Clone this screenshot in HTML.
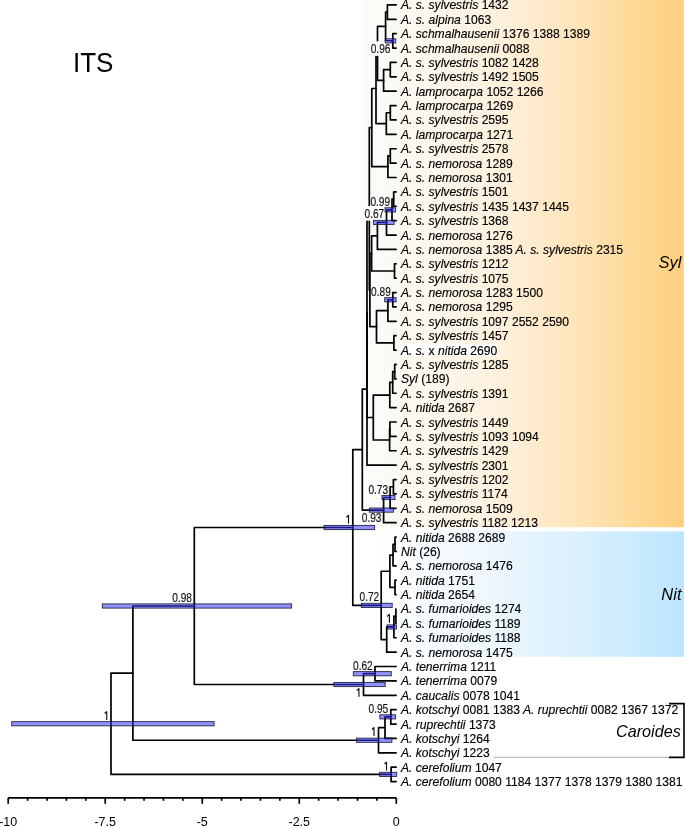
<!DOCTYPE html>
<html><head><meta charset="utf-8"><title>ITS tree</title>
<style>
html,body{margin:0;padding:0;background:#fff;}
body{width:685px;height:826px;overflow:hidden;}
svg{display:block;will-change:transform;font-family:"Liberation Sans",sans-serif;}
</style></head><body>
<svg width="685" height="826" viewBox="0 0 685 826">
<defs>
<linearGradient id="go" x1="0" y1="0" x2="1" y2="0">
<stop offset="0" stop-color="#fbfbfa"/>
<stop offset="0.08" stop-color="#fcfaf6"/>
<stop offset="0.4" stop-color="#fdf2e0"/>
<stop offset="0.565" stop-color="#feeaca"/>
<stop offset="0.74" stop-color="#fee0ac"/>
<stop offset="0.863" stop-color="#fed894"/>
<stop offset="0.96" stop-color="#fed286"/>
<stop offset="1" stop-color="#fdce7e"/>
</linearGradient>
<linearGradient id="gb" x1="0" y1="0" x2="1" y2="0">
<stop offset="0" stop-color="#fefeff"/>
<stop offset="0.06" stop-color="#fbfdfe"/>
<stop offset="0.33" stop-color="#f0f8fd"/>
<stop offset="0.59" stop-color="#def1fd"/>
<stop offset="0.80" stop-color="#cfecfe"/>
<stop offset="0.98" stop-color="#bee6fe"/>
<stop offset="1" stop-color="#bce5fe"/>
</linearGradient>
</defs>
<rect x="0" y="0" width="685" height="826" fill="#fff"/>
<rect x="361.8" y="0" width="322" height="527.2" fill="url(#go)"/>
<rect x="381" y="531.4" width="303" height="125.4" fill="url(#gb)"/>
<text x="0" y="0" font-size="28.2" transform="translate(72.9,71.6) scale(0.925,1)">ITS</text>
<g stroke="#000" stroke-width="1.7" stroke-linecap="round" stroke-linejoin="round" fill="none">
<path d="M396.10 4.90H387.40V19.28H396.10"/>
<path d="M396.10 33.67H392.80V48.05H396.10"/>
<path d="M387.40 12.09H385.60V40.86H392.80"/>
<path d="M396.10 62.43H390.30V76.81H396.10"/>
<path d="M390.30 69.62H383.60V91.20H396.10"/>
<path d="M385.60 26.47H377.50V80.41H383.60"/>
<path d="M396.10 105.58H390.30V119.96H396.10"/>
<path d="M390.30 112.77H386.30V134.35H396.10"/>
<path d="M377.50 53.44H376.00V123.56H386.30"/>
<path d="M396.10 148.73H390.30V163.11H396.10"/>
<path d="M390.30 155.92H387.90V177.50H396.10"/>
<path d="M376.00 88.50H371.80V166.71H387.90"/>
<path d="M396.10 191.88H393.70V206.26H396.10"/>
<path d="M393.70 199.07H392.00V220.64H396.10"/>
<path d="M392.00 209.86H386.50V235.03H396.10"/>
<path d="M386.50 222.44H377.40V249.41H396.10"/>
<path d="M396.10 263.79H394.50V278.18H396.10"/>
<path d="M377.40 235.93H371.60V270.99H394.50"/>
<path d="M396.10 292.56H392.80V306.94H396.10"/>
<path d="M392.80 299.75H387.90V321.33H396.10"/>
<path d="M396.10 335.71H393.90V350.09H396.10"/>
<path d="M387.90 310.54H376.50V342.90H393.90"/>
<path d="M371.60 253.46H369.90V326.72H376.50"/>
<path d="M371.80 127.60H369.30V290.09H369.90"/>
<path d="M396.10 364.47H394.70V378.86H396.10"/>
<path d="M394.70 371.67H392.70V393.24H396.10"/>
<path d="M392.70 382.45H389.80V407.62H396.10"/>
<path d="M396.10 422.01H389.90V436.39H396.10"/>
<path d="M389.90 429.20H389.60V450.77H396.10"/>
<path d="M389.80 395.04H373.30V439.99H389.60"/>
<path d="M369.30 208.85H367.00V417.51H373.30"/>
<path d="M367.00 313.18H367.00V465.16H396.10"/>
<path d="M396.10 479.54H393.40V493.92H396.10"/>
<path d="M393.40 486.73H390.10V508.30H396.10"/>
<path d="M390.10 497.52H383.60V522.69H396.10"/>
<path d="M367.00 389.17H362.30V510.10H383.60"/>
<path d="M396.10 537.07H395.00V551.45H396.10"/>
<path d="M395.00 544.26H393.00V565.84H396.10"/>
<path d="M396.10 580.22H395.00V594.60H396.10"/>
<path d="M393.00 555.05H389.90V587.41H395.00"/>
<path d="M396.10 608.99H395.90V623.37H396.10"/>
<path d="M395.90 616.18H393.90V637.75H396.10"/>
<path d="M393.90 626.96H386.70V652.13H396.10"/>
<path d="M389.90 571.23H381.20V639.55H386.70"/>
<path d="M362.30 449.64H352.80V605.39H381.20"/>
<path d="M396.10 666.52H375.00V680.90H396.10"/>
<path d="M375.00 673.71H363.50V695.28H396.10"/>
<path d="M352.80 527.51H194.30V684.50H363.50"/>
<path d="M396.10 709.67H390.80V724.05H396.10"/>
<path d="M390.80 716.86H385.00V738.43H396.10"/>
<path d="M385.00 727.65H378.50V752.82H396.10"/>
<path d="M194.30 606.00H132.90V740.23H378.50"/>
<path d="M396.10 767.20H391.10V781.58H396.10"/>
<path d="M132.90 673.12H111.00V774.39H391.10"/>
</g>
<rect x="370.20" y="41.30" width="20.7" height="14.6" fill="#fff"/>
<rect x="364.00" y="206.10" width="20.7" height="14.6" fill="#fff"/>
<g fill="rgba(45,45,255,0.52)" stroke="rgba(10,10,35,0.85)" stroke-width="0.9">
<rect x="385.20" y="38.76" width="10.60" height="4.2"/>
<rect x="385.00" y="207.76" width="10.60" height="4.2"/>
<rect x="373.40" y="220.34" width="20.70" height="4.2"/>
<rect x="384.70" y="297.65" width="11.40" height="4.2"/>
<rect x="382.00" y="495.42" width="13.00" height="4.2"/>
<rect x="369.40" y="508.00" width="24.00" height="4.2"/>
<rect x="324.10" y="525.41" width="50.50" height="4.2"/>
<rect x="361.30" y="603.29" width="30.90" height="4.2"/>
<rect x="387.10" y="624.86" width="9.30" height="4.2"/>
<rect x="353.30" y="671.61" width="38.00" height="4.2"/>
<rect x="333.90" y="682.40" width="51.30" height="4.2"/>
<rect x="102.30" y="603.90" width="189.30" height="4.2"/>
<rect x="379.80" y="714.76" width="15.80" height="4.2"/>
<rect x="356.40" y="738.13" width="35.50" height="4.2"/>
<rect x="379.60" y="772.29" width="17.10" height="4.2"/>
<rect x="11.70" y="721.65" width="202.40" height="4.2"/>
</g>
<g font-size="12.2" fill="#111" stroke="#111" stroke-width="0.15">
<text x="0" y="0" transform="translate(370.70,53.20) scale(0.83,1)">0.96</text>
<text x="0" y="0" transform="translate(370.40,206.00) scale(0.83,1)">0.99</text>
<text x="0" y="0" transform="translate(364.50,218.00) scale(0.83,1)">0.67</text>
<text x="0" y="0" transform="translate(371.10,295.70) scale(0.83,1)">0.89</text>
<text x="0" y="0" transform="translate(368.40,493.70) scale(0.83,1)">0.73</text>
<text x="0" y="0" transform="translate(361.80,522.20) scale(0.83,1)">0.93</text>
<text x="0" y="0" transform="translate(359.50,601.20) scale(0.83,1)">0.72</text>
<text x="0" y="0" transform="translate(353.00,669.60) scale(0.83,1)">0.62</text>
<text x="0" y="0" transform="translate(172.30,602.00) scale(0.83,1)">0.98</text>
<text x="0" y="0" transform="translate(368.50,712.80) scale(0.83,1)">0.95</text>
<path d="M348.50 523.60V515.10L346.40 517.40" stroke="#111" stroke-width="1.15" fill="none" stroke-linejoin="bevel"/>
<path d="M389.40 622.70V614.20L387.30 616.50" stroke="#111" stroke-width="1.15" fill="none" stroke-linejoin="bevel"/>
<path d="M358.95 696.80V688.30L356.85 690.60" stroke="#111" stroke-width="1.15" fill="none" stroke-linejoin="bevel"/>
<path d="M106.70 719.90V711.40L104.60 713.70" stroke="#111" stroke-width="1.15" fill="none" stroke-linejoin="bevel"/>
<path d="M374.00 735.90V727.40L371.90 729.70" stroke="#111" stroke-width="1.15" fill="none" stroke-linejoin="bevel"/>
<path d="M386.50 770.40V761.90L384.40 764.20" stroke="#111" stroke-width="1.15" fill="none" stroke-linejoin="bevel"/>
</g>
<rect x="399.2" y="344.4" width="98.2" height="11.3" fill="#fff"/>
<g font-size="12.1" fill="#000" stroke="#000" stroke-width="0.15">
<text x="401.0" y="9.40" xml:space="preserve"><tspan font-style="italic">A. s. sylvestris</tspan><tspan> 1432</tspan></text>
<text x="401.0" y="23.78" xml:space="preserve"><tspan font-style="italic">A. s. alpina</tspan><tspan> 1063</tspan></text>
<text x="401.0" y="38.17" xml:space="preserve"><tspan font-style="italic">A. schmalhausenii</tspan><tspan> 1376 1388 1389</tspan></text>
<text x="401.0" y="52.55" xml:space="preserve"><tspan font-style="italic">A. schmalhausenii</tspan><tspan> 0088</tspan></text>
<text x="401.0" y="66.93" xml:space="preserve"><tspan font-style="italic">A. s. sylvestris</tspan><tspan> 1082 1428</tspan></text>
<text x="401.0" y="81.31" xml:space="preserve"><tspan font-style="italic">A. s. sylvestris</tspan><tspan> 1492 1505</tspan></text>
<text x="401.0" y="95.70" xml:space="preserve"><tspan font-style="italic">A. lamprocarpa</tspan><tspan> 1052 1266</tspan></text>
<text x="401.0" y="110.08" xml:space="preserve"><tspan font-style="italic">A. lamprocarpa</tspan><tspan> 1269</tspan></text>
<text x="401.0" y="124.46" xml:space="preserve"><tspan font-style="italic">A. s. sylvestris</tspan><tspan> 2595</tspan></text>
<text x="401.0" y="138.85" xml:space="preserve"><tspan font-style="italic">A. lamprocarpa</tspan><tspan> 1271</tspan></text>
<text x="401.0" y="153.23" xml:space="preserve"><tspan font-style="italic">A. s. sylvestris</tspan><tspan> 2578</tspan></text>
<text x="401.0" y="167.61" xml:space="preserve"><tspan font-style="italic">A. s. nemorosa</tspan><tspan> 1289</tspan></text>
<text x="401.0" y="182.00" xml:space="preserve"><tspan font-style="italic">A. s. nemorosa</tspan><tspan> 1301</tspan></text>
<text x="401.0" y="196.38" xml:space="preserve"><tspan font-style="italic">A. s. sylvestris</tspan><tspan> 1501</tspan></text>
<text x="401.0" y="210.76" xml:space="preserve"><tspan font-style="italic">A. s. sylvestris</tspan><tspan> 1435 1437 1445</tspan></text>
<text x="401.0" y="225.14" xml:space="preserve"><tspan font-style="italic">A. s. sylvestris</tspan><tspan> 1368</tspan></text>
<text x="401.0" y="239.53" xml:space="preserve"><tspan font-style="italic">A. s. nemorosa</tspan><tspan> 1276</tspan></text>
<text x="401.0" y="253.91" xml:space="preserve"><tspan font-style="italic">A. s. nemorosa</tspan><tspan> 1385</tspan><tspan font-style="italic"> A. s. sylvestris</tspan><tspan> 2315</tspan></text>
<text x="401.0" y="268.29" xml:space="preserve"><tspan font-style="italic">A. s. sylvestris</tspan><tspan> 1212</tspan></text>
<text x="401.0" y="282.68" xml:space="preserve"><tspan font-style="italic">A. s. sylvestris</tspan><tspan> 1075</tspan></text>
<text x="401.0" y="297.06" xml:space="preserve"><tspan font-style="italic">A. s. nemorosa</tspan><tspan> 1283 1500</tspan></text>
<text x="401.0" y="311.44" xml:space="preserve"><tspan font-style="italic">A. s. nemorosa</tspan><tspan> 1295</tspan></text>
<text x="401.0" y="325.83" xml:space="preserve"><tspan font-style="italic">A. s. sylvestris</tspan><tspan> 1097 2552 2590</tspan></text>
<text x="401.0" y="340.21" xml:space="preserve"><tspan font-style="italic">A. s. sylvestris</tspan><tspan> 1457</tspan></text>
<text x="401.0" y="354.59" xml:space="preserve"><tspan font-style="italic">A. s.</tspan><tspan> x </tspan><tspan font-style="italic">nitida</tspan><tspan> 2690</tspan></text>
<text x="401.0" y="368.97" xml:space="preserve"><tspan font-style="italic">A. s. sylvestris</tspan><tspan> 1285</tspan></text>
<text x="401.0" y="383.36" xml:space="preserve"><tspan font-style="italic">Syl</tspan><tspan> (189)</tspan></text>
<text x="401.0" y="397.74" xml:space="preserve"><tspan font-style="italic">A. s. sylvestris</tspan><tspan> 1391</tspan></text>
<text x="401.0" y="412.12" xml:space="preserve"><tspan font-style="italic">A. nitida</tspan><tspan> 2687</tspan></text>
<text x="401.0" y="426.51" xml:space="preserve"><tspan font-style="italic">A. s. sylvestris</tspan><tspan> 1449</tspan></text>
<text x="401.0" y="440.89" xml:space="preserve"><tspan font-style="italic">A. s. sylvestris</tspan><tspan> 1093 1094</tspan></text>
<text x="401.0" y="455.27" xml:space="preserve"><tspan font-style="italic">A. s. sylvestris</tspan><tspan> 1429</tspan></text>
<text x="401.0" y="469.66" xml:space="preserve"><tspan font-style="italic">A. s. sylvestris</tspan><tspan> 2301</tspan></text>
<text x="401.0" y="484.04" xml:space="preserve"><tspan font-style="italic">A. s. sylvestris</tspan><tspan> 1202</tspan></text>
<text x="401.0" y="498.42" xml:space="preserve"><tspan font-style="italic">A. s. sylvestris</tspan><tspan> 1174</tspan></text>
<text x="401.0" y="512.80" xml:space="preserve"><tspan font-style="italic">A. s. nemorosa</tspan><tspan> 1509</tspan></text>
<text x="401.0" y="527.19" xml:space="preserve"><tspan font-style="italic">A. s. sylvestris</tspan><tspan> 1182 1213</tspan></text>
<text x="401.0" y="541.57" xml:space="preserve"><tspan font-style="italic">A. nitida</tspan><tspan> 2688 2689</tspan></text>
<text x="401.0" y="555.95" xml:space="preserve"><tspan font-style="italic">Nit</tspan><tspan> (26)</tspan></text>
<text x="401.0" y="570.34" xml:space="preserve"><tspan font-style="italic">A. s. nemorosa</tspan><tspan> 1476</tspan></text>
<text x="401.0" y="584.72" xml:space="preserve"><tspan font-style="italic">A. nitida</tspan><tspan> 1751</tspan></text>
<text x="401.0" y="599.10" xml:space="preserve"><tspan font-style="italic">A. nitida</tspan><tspan> 2654</tspan></text>
<text x="401.0" y="613.49" xml:space="preserve"><tspan font-style="italic">A. s. fumarioides</tspan><tspan> 1274</tspan></text>
<text x="401.0" y="627.87" xml:space="preserve"><tspan font-style="italic">A. s. fumarioides</tspan><tspan> 1189</tspan></text>
<text x="401.0" y="642.25" xml:space="preserve"><tspan font-style="italic">A. s. fumarioides</tspan><tspan> 1188</tspan></text>
<text x="401.0" y="656.63" xml:space="preserve"><tspan font-style="italic">A. s. nemorosa</tspan><tspan> 1475</tspan></text>
<text x="401.0" y="671.02" xml:space="preserve"><tspan font-style="italic">A. tenerrima</tspan><tspan> 1211</tspan></text>
<text x="401.0" y="685.40" xml:space="preserve"><tspan font-style="italic">A. tenerrima</tspan><tspan> 0079</tspan></text>
<text x="401.0" y="699.78" xml:space="preserve"><tspan font-style="italic">A. caucalis</tspan><tspan> 0078 1041</tspan></text>
<text x="401.0" y="714.17" xml:space="preserve"><tspan font-style="italic">A. kotschyi</tspan><tspan> 0081 1383</tspan><tspan font-style="italic"> A. ruprechtii</tspan><tspan> 0082 1367 1372</tspan></text>
<text x="401.0" y="728.55" xml:space="preserve"><tspan font-style="italic">A. ruprechtii</tspan><tspan> 1373</tspan></text>
<text x="401.0" y="742.93" xml:space="preserve"><tspan font-style="italic">A. kotschyi</tspan><tspan> 1264</tspan></text>
<text x="401.0" y="757.32" xml:space="preserve"><tspan font-style="italic">A. kotschyi</tspan><tspan> 1223</tspan></text>
<text x="401.0" y="771.70" xml:space="preserve"><tspan font-style="italic">A. cerefolium</tspan><tspan> 1047</tspan></text>
<text x="401.0" y="786.08" xml:space="preserve"><tspan font-style="italic">A. cerefolium</tspan><tspan> 0080 1184 1377 1378 1379 1380 1381</tspan></text>
</g>
<g font-size="16.5" font-style="italic" fill="#000">
<text x="681.5" y="268" text-anchor="end">Syl</text>
<text x="681.5" y="599.8" text-anchor="end">Nit</text>
<text x="680.8" y="736.6" text-anchor="end" font-size="16.2">Caroides</text>
</g>
<line x1="493.7" y1="757.3" x2="670" y2="757.3" stroke="#aaa" stroke-width="1"/>
<path d="M669 703.6 H684 V757.4 H669" stroke="#000" stroke-width="1.6" fill="none"/>
<g stroke="#000" stroke-width="1.7">
<line x1="8.20" y1="797.9" x2="396.30" y2="797.9"/>
<line x1="8.20" y1="797.9" x2="8.20" y2="803.80"/>
<line x1="27.60" y1="797.9" x2="27.60" y2="800.80"/>
<line x1="47.01" y1="797.9" x2="47.01" y2="800.80"/>
<line x1="66.42" y1="797.9" x2="66.42" y2="800.80"/>
<line x1="85.82" y1="797.9" x2="85.82" y2="800.80"/>
<line x1="105.22" y1="797.9" x2="105.22" y2="803.80"/>
<line x1="124.63" y1="797.9" x2="124.63" y2="800.80"/>
<line x1="144.03" y1="797.9" x2="144.03" y2="800.80"/>
<line x1="163.44" y1="797.9" x2="163.44" y2="800.80"/>
<line x1="182.84" y1="797.9" x2="182.84" y2="800.80"/>
<line x1="202.25" y1="797.9" x2="202.25" y2="803.80"/>
<line x1="221.66" y1="797.9" x2="221.66" y2="800.80"/>
<line x1="241.06" y1="797.9" x2="241.06" y2="800.80"/>
<line x1="260.47" y1="797.9" x2="260.47" y2="800.80"/>
<line x1="279.87" y1="797.9" x2="279.87" y2="800.80"/>
<line x1="299.27" y1="797.9" x2="299.27" y2="803.80"/>
<line x1="318.68" y1="797.9" x2="318.68" y2="800.80"/>
<line x1="338.09" y1="797.9" x2="338.09" y2="800.80"/>
<line x1="357.49" y1="797.9" x2="357.49" y2="800.80"/>
<line x1="376.89" y1="797.9" x2="376.89" y2="800.80"/>
<line x1="396.30" y1="797.9" x2="396.30" y2="803.80"/>
</g>
<g font-size="12.5" fill="#000">
<text x="8.20" y="825.6" text-anchor="middle">-10</text>
<text x="105.22" y="825.6" text-anchor="middle">-7.5</text>
<text x="202.25" y="825.6" text-anchor="middle">-5</text>
<text x="299.27" y="825.6" text-anchor="middle">-2.5</text>
<text x="396.30" y="825.6" text-anchor="middle">0</text>
</g>
</svg>
</body></html>
